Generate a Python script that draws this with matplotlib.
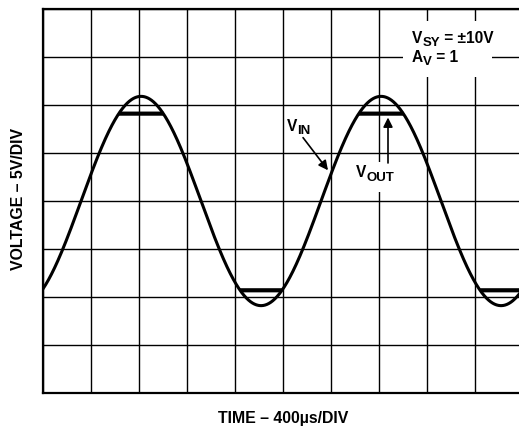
import numpy as np
import matplotlib
matplotlib.use("Agg")
import matplotlib.pyplot as plt
from matplotlib.patches import Rectangle

plt.rcParams['font.family'] = ['Liberation Sans', 'DejaVu Sans']
plt.rcParams['font.weight'] = 'bold'

# scope settings
time_per_div_us = 400
volt_per_div = 5
n_xdiv = 10
n_ydiv = 8

# input sine wave parameters
vin_amplitude = 10.9     # V
vin_period_us = 2000
vin_peak_us = 817
# output clipping levels
vout_high = 9.1
vout_low = -9.3

# signal traces
t = np.linspace(0, time_per_div_us * n_xdiv, 2000)
vin = vin_amplitude * np.cos(2 * np.pi * (t - vin_peak_us) / vin_period_us)
vout = np.clip(vin, vout_low, vout_high)
flat = np.where((vin > vout_high) | (vin < vout_low), vout, np.nan)

fig = plt.figure(figsize=(5.19, 4.28), dpi=100)
ax = fig.add_axes([43 / 519, 35 / 428, 480 / 519, 384 / 428])

xmax = time_per_div_us * n_xdiv
ymax = volt_per_div * n_ydiv / 2
ax.set_xlim(0, xmax)
ax.set_ylim(-ymax, ymax)
ax.set_xticks(np.arange(0, xmax + 1, time_per_div_us))
ax.set_yticks(np.arange(-ymax, ymax + 1, volt_per_div))
ax.tick_params(length=0, labelbottom=False, labelleft=False)
ax.set_axisbelow(True)
ax.grid(True, color='black', lw=1.0)
for s in ax.spines.values():
    s.set_linewidth(1.6)

ax.plot(t, vin, color='black', lw=2.2, zorder=3)
ax.plot(t, flat, color='black', lw=3.0, zorder=3, solid_capstyle='butt')


# text with a subscript: main letter, lowered smaller subscript, then rest
def sub_text(x, y, main, sub, rest='', size=11.2, subsize=9.5, drop=2.5):
    t1 = ax.text(x, y, main, fontsize=size, va='baseline', ha='left',
                 fontweight='bold', zorder=5)
    t2 = ax.annotate(sub, xy=(1, 0), xycoords=t1, xytext=(0, -drop),
                     textcoords='offset points', fontsize=subsize,
                     va='bottom', ha='left', fontweight='bold', zorder=5)
    if rest:
        ax.annotate(rest, xy=(1, 0), xycoords=t2, xytext=(0, drop),
                    textcoords='offset points', fontsize=size,
                    va='bottom', ha='left', fontweight='bold', zorder=5)


# annotation box top right
ax.add_patch(Rectangle((3000, 12.9), 742, 5.85, facecolor='white',
                       edgecolor='none', zorder=1))
sub_text(3075, 16.49, 'V', 'SY', ' = ±10V')
sub_text(3075, 14.51, 'A', 'V', ' = 1')

# V_IN label and arrow
sub_text(2033, 7.32, 'V', 'IN')
ax.annotate('', xy=(2375, 3.2), xytext=(2167, 6.6),
            arrowprops=dict(arrowstyle='-|>', color='black', lw=1.2,
                            mutation_scale=14, shrinkA=0, shrinkB=0),
            zorder=4)

# V_OUT label and arrow
ax.add_patch(Rectangle((2575, 0.94), 400, 3.12, facecolor='white',
                       edgecolor='none', zorder=1))
sub_text(2608, 2.47, 'V', 'OUT')
ax.annotate('', xy=(2875, 8.7), xytext=(2875, 3.96),
            arrowprops=dict(arrowstyle='-|>', color='black', lw=1.2,
                            mutation_scale=14, shrinkA=0, shrinkB=0),
            zorder=4)

fig.text(18.5 / 519, 1 - 199 / 428, 'VOLTAGE – 5V/DIV', rotation=90,
         fontsize=11.4, fontweight='bold', ha='center', va='center')
fig.text(283 / 519, 1 - 419 / 428, 'TIME – 400µs/DIV', fontsize=11.4,
         fontweight='bold', ha='center', va='center')

fig.savefig('out.png', dpi=100)
